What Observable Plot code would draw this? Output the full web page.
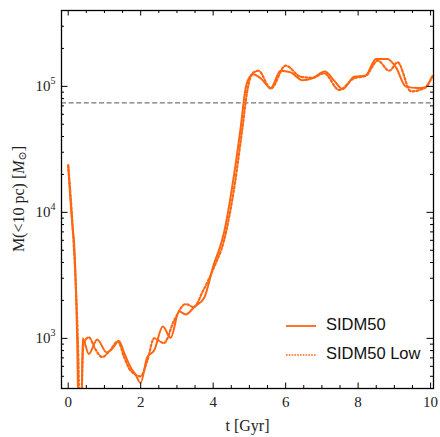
<!DOCTYPE html>
<html>
<head>
<meta charset="utf-8">
<script src="https://cdn.jsdelivr.net/npm/d3@7"></script>
<script src="https://cdn.jsdelivr.net/npm/@observablehq/plot@0.6"></script>
<style>
  html, body { margin: 0; padding: 0; background: #fff; }
  #chart { width: 440px; height: 437px; }
</style>
</head>
<body>
<div id="chart"></div>
<script>
// ---- data ----
const sidm50T = [0, 0.13, 0.16, 0.25, 0.28, 0.37, 0.40, 0.57, 0.80, 1.06, 1.20, 1.40, 1.55, 1.72, 1.85, 2.00, 2.18, 2.37, 2.61, 2.83, 3.06, 3.24, 3.50, 3.75, 4.02, 4.20, 4.30, 4.58, 4.76, 4.90, 5.04, 5.10, 5.31, 5.59, 5.86, 6.14, 6.46, 6.74, 7.08, 7.34, 7.57, 7.89, 8.21, 8.49, 8.81, 9.04, 9.32, 9.64, 9.84, 10.03];
const sidm50M = [23600, 7100, 5900, 900, 300, 300, 1000, 752, 980, 774, 820, 955, 760, 590, 520, 443, 710, 800, 1240, 1010, 1640, 1550, 1800, 2090, 3890, 5440, 6930, 20200, 47300, 98000, 122000, 125000, 116000, 97000, 133000, 129000, 112000, 116000, 131000, 111000, 95000, 119000, 122000, 165000, 165000, 142000, 99500, 97000, 98000, 118000];

const sidm50LowT = [0, 0.13, 0.20, 0.28, 0.31, 0.35, 0.42, 0.57, 0.75, 0.94, 1.15, 1.37, 1.55, 1.72, 2.00, 2.18, 2.37, 2.64, 2.92, 3.24, 3.47, 3.70, 4.02, 4.30, 4.60, 4.80, 4.95, 5.10, 5.25, 5.59, 6.00, 6.42, 6.74, 7.06, 7.48, 7.89, 8.21, 8.54, 8.86, 9.09, 9.46, 9.84, 10.06];
const sidm50LowM = [23600, 7100, 3000, 700, 300, 300, 900, 1020, 820, 710, 800, 946, 700, 555, 500, 660, 1000, 917, 1380, 1870, 1770, 2320, 3640, 6000, 17000, 45000, 95000, 128000, 133000, 96000, 146000, 119000, 117000, 127000, 93600, 116000, 121000, 160000, 133000, 155000, 91300, 97000, 122000];

const threshold = 74000;

const xMajorTicks = [0, 2, 4, 6, 8, 10];
const xMinorTicks = [0.5, 1, 1.5, 2.5, 3, 3.5, 4.5, 5, 5.5, 6.5, 7, 7.5, 8.5, 9, 9.5];
const yMajorTicks = [1e3, 1e4, 1e5];
const yMajorExp = ["3", "4", "5"];
const yMinorTicks = [400, 500, 600, 700, 800, 900, 2e3, 3e3, 4e3, 5e3, 6e3, 7e3, 8e3, 9e3, 2e4, 3e4, 4e4, 5e4, 6e4, 7e4, 8e4, 9e4, 2e5, 3e5];

const seriesNames = ["SIDM50", "SIDM50 Low"];

// ---- build ----
const solid = sidm50T.map((t, i) => ({t, m: sidm50M[i]}));
const dotted = sidm50LowT.map((t, i) => ({t, m: sidm50LowM[i]}));

const W = 440, H = 437;
const mL = 61, mR = 7, mT = 10, mB = 49;
const fw = W - mL - mR, fh = H - mT - mB;
const orange = "#ff6612";
const serif = "'Liberation Serif', 'DejaVu Serif', serif";
const majLen = 5.5, minLen = 3;

const plot = Plot.plot({
  width: W, height: H,
  marginLeft: mL, marginRight: mR, marginTop: mT, marginBottom: mB,
  style: {fontFamily: serif, background: "white", overflow: "visible"},
  x: {domain: [-0.185, 10.08], axis: null},
  y: {type: "log", domain: [400, 4e5], axis: null},
  marks: [
    Plot.ruleY([threshold], {stroke: "#777", strokeWidth: 1.3, strokeDasharray: "5,2.6"}),
    Plot.line(solid, {x: "t", y: "m", stroke: orange, strokeWidth: 2, curve: "monotone-x", clip: true}),
    Plot.line(dotted, {x: "t", y: "m", stroke: orange, strokeWidth: 2.2, strokeDasharray: "2,2.2", curve: "monotone-x", clip: true}),
    // ticks (inward, all four sides)
    Plot.tickX(xMajorTicks, {x: d => d, insetTop: fh - majLen, stroke: "black", strokeWidth: 1}),
    Plot.tickX(xMajorTicks, {x: d => d, insetBottom: fh - majLen, stroke: "black", strokeWidth: 1}),
    Plot.tickX(xMinorTicks, {x: d => d, insetTop: fh - minLen, stroke: "black", strokeWidth: 1}),
    Plot.tickX(xMinorTicks, {x: d => d, insetBottom: fh - minLen, stroke: "black", strokeWidth: 1}),
    Plot.tickY(yMajorTicks, {y: d => d, insetRight: fw - majLen - 1, stroke: "black", strokeWidth: 1}),
    Plot.tickY(yMajorTicks, {y: d => d, insetLeft: fw - majLen - 1, stroke: "black", strokeWidth: 1}),
    Plot.tickY(yMinorTicks, {y: d => d, insetRight: fw - minLen, stroke: "black", strokeWidth: 1}),
    Plot.tickY(yMinorTicks, {y: d => d, insetLeft: fw - minLen, stroke: "black", strokeWidth: 1}),
    Plot.frame({stroke: "black", strokeWidth: 1.3}),
    // tick labels
    Plot.text(xMajorTicks, {x: d => d, text: d => String(d), frameAnchor: "bottom", dy: 14, lineAnchor: "middle", fontSize: 15, fill: "#222"}),
    Plot.text(yMajorTicks, {y: d => d, text: () => "10", frameAnchor: "left", dx: -11, textAnchor: "end", lineAnchor: "middle", fontSize: 15, fill: "#222"}),
    Plot.text(yMajorTicks, {y: d => d, text: (d, i) => yMajorExp[i], frameAnchor: "left", dx: -11, dy: -6, textAnchor: "start", lineAnchor: "middle", fontSize: 10, fill: "#222"}),
    // x axis title
    Plot.text(["t [Gyr]"], {text: d => d, frameAnchor: "bottom", dy: 37, lineAnchor: "middle", fontSize: 16, fill: "#222"})
  ]
});

document.getElementById("chart").appendChild(plot);

const svg = d3.select(plot);
// y-axis title with italic M and subscript sun symbol
const yt = svg.append("text")
  .attr("transform", `translate(20,${mT + fh / 2}) rotate(-90)`)
  .attr("text-anchor", "middle")
  .attr("dominant-baseline", "middle")
  .attr("font-family", serif)
  .attr("font-size", 16)
  .attr("fill", "#222");
yt.append("tspan").text("M(<10 pc) [");
yt.append("tspan").attr("font-style", "italic").text("M");
yt.append("tspan").attr("font-size", 11).attr("dy", 3).text("⊙");
yt.append("tspan").attr("dy", -3).text("]");

// legend (inside the plot, lower right)
const lg = svg.append("g").attr("font-family", "'Liberation Sans', Arial, sans-serif").attr("font-size", 16.5);
seriesNames.forEach((name, i) => {
  const y = 326 + i * 29;
  lg.append("line").attr("x1", 286).attr("x2", 316).attr("y1", y).attr("y2", y)
    .attr("stroke", orange).attr("stroke-width", i === 0 ? 1.8 : 1.6)
    .attr("stroke-dasharray", i === 0 ? null : "1.6,1.2");
  lg.append("text").attr("x", 326).attr("y", y).attr("dominant-baseline", "middle")
    .attr("text-anchor", "start")
    .attr("fill", "#111").text(name);
});
</script>
</body>
</html>
